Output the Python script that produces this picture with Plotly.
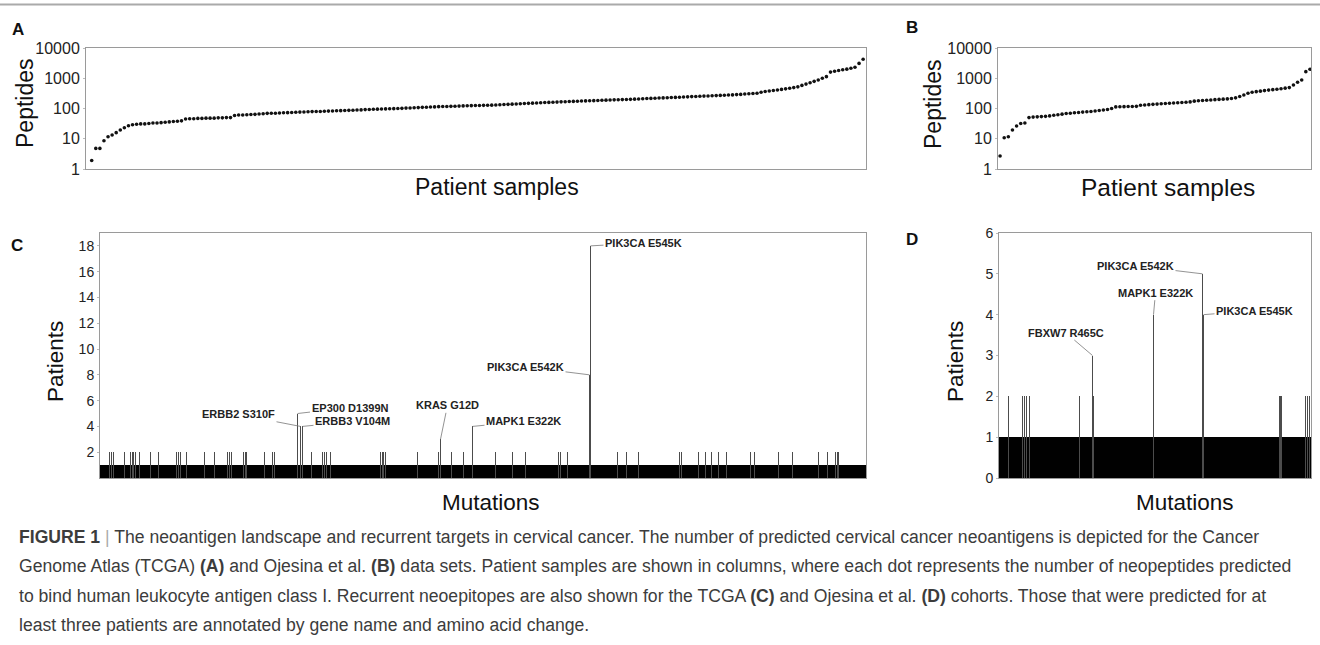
import plotly.graph_objects as go

W, H = 1320, 645

# ---------------- data ----------------
# Panel A: TCGA, predicted neopeptides per patient sample (sorted)
a_peptides = [
    1.9, 4.8, 4.8, 8.6, 11.7, 13.3, 15.9, 19.5, 23, 27,
    29, 30, 31, 31, 32, 33, 33, 34, 35, 36, 37, 38, 39,
    45, 46, 46, 47, 47, 48, 48, 48, 49, 49, 50, 50,
    59, 61, 61, 62, 63, 64, 66, 67, 69,
    70, 70, 71, 72, 73, 74, 75, 76, 77, 78, 79, 80, 80, 81, 82, 83,
    84, 85, 86, 87, 88, 89, 90, 92, 93, 94, 95, 96, 97, 98, 99, 100,
    101, 103, 104, 106, 107, 109, 110, 112, 113, 115,
    116, 117, 118, 119, 120, 122, 123, 124, 125, 126, 127, 128, 129, 131,
    133, 135, 137, 139, 141, 144, 146, 148, 150, 152, 155, 157, 159, 161, 163, 166,
    168, 170, 172, 174, 176, 178, 180, 182, 184, 187, 189, 191, 193, 195, 197, 199,
    201, 204, 207, 210, 213, 216, 219, 222, 224, 227, 230, 233,
    236, 240, 243, 247, 250, 254, 257, 260, 264, 267, 271, 274, 278,
    282, 288, 293, 300, 306, 312, 320, 345,
    365, 378, 392, 410, 428, 447, 468, 490,
    520, 580, 640, 710,
    790, 880, 1000, 1130,
    1600, 1700, 1800, 1900, 2000, 2150, 2300, 3100, 4250,
]

# Panel B: Ojesina et al., predicted neopeptides per patient sample (sorted)
b_peptides = [
    2.7, 10.8, 11.7, 19.5, 26.5, 32, 33, 50, 52, 53,
    54, 55, 57, 60, 62, 65, 68, 70, 72, 74,
    76, 78, 80, 83, 86, 89, 93, 100, 113, 114,
    115, 116, 117, 118, 128, 131, 134, 137, 140, 143,
    146, 149, 152, 155, 158, 161, 165, 175, 180, 184,
    188, 192, 196, 200, 204, 208, 213, 225, 250, 280,
    320, 345, 360, 375, 390, 405, 420, 435, 450, 470,
    490, 600, 740, 880, 1650, 1980,
]
peptide_ticks = [1, 10, 100, 1000, 10000]

# Panel C: TCGA recurrent neoepitopes (every other mutation: 1 patient)
c_n_mutations = 766
c_recurrent_idx = [9, 11, 13, 24, 30, 32, 33, 35, 39, 50, 58, 76, 78, 80, 86,
                   104, 114, 127, 129, 131, 143, 145, 146, 164, 172, 174,
                   197, 200, 202, 211, 222, 224, 226, 230, 280, 282, 283, 285,
                   317, 338, 340, 351, 363, 372, 395, 412, 425, 458, 460, 467,
                   489, 490, 517, 526, 538, 579, 581, 598, 605, 611, 618, 626,
                   650, 654, 678, 692, 718, 727, 735, 737, 738]
c_recurrent_patients = [2, 2, 2, 2, 2, 2, 2, 2, 2, 2, 2, 2, 2, 2, 2,
                        2, 2, 2, 2, 2, 2, 2, 2, 2, 2, 2,
                        5, 4, 4, 2, 2, 2, 2, 2, 2, 2, 2, 2,
                        2, 2, 3, 2, 2, 4, 2, 2, 2, 2, 2, 2,
                        8, 18, 2, 2, 2, 2, 2, 2, 2, 2, 2, 2,
                        2, 2, 2, 2, 2, 2, 2, 2, 2]
c_label_text = ["ERBB2 S310F", "EP300 D1399N", "ERBB3 V104M", "KRAS G12D",
                "MAPK1 E322K", "PIK3CA E542K", "PIK3CA E545K"]
c_label_idx = [200, 197, 202, 340, 372, 489, 490]
c_label_offset = [(-62, -12), (52, -6), (50, -5), (7, -34), (51, -5), (-64, -8), (53, -3)]
c_ticks = [2, 4, 6, 8, 10, 12, 14, 16, 18]

# Panel D: Ojesina et al. recurrent neoepitopes
d_n_mutations = 312
d_recurrent_idx = [9, 23, 25, 27, 30, 80, 93, 94, 154, 203, 204, 280, 281, 282, 306, 308, 310]
d_recurrent_patients = [2, 2, 2, 2, 2, 2, 3, 2, 4, 5, 4, 2, 2, 2, 2, 2, 2]
d_label_text = ["FBXW7 R465C", "MAPK1 E322K", "PIK3CA E542K", "PIK3CA E545K"]
d_label_idx = [93, 154, 203, 204]
d_label_offset = [(-27, -23), (2, -22), (-67, -8), (51, -4)]
d_ticks = [0, 1, 2, 3, 4, 5, 6]

caption_lines = [
    "<b>FIGURE 1</b> <span style='color:#aaa'>|</span> The neoantigen landscape and recurrent targets in cervical cancer. The number of predicted cervical cancer neoantigens is depicted for the Cancer",
    "Genome Atlas (TCGA) <b>(A)</b> and Ojesina et al. <b>(B)</b> data sets. Patient samples are shown in columns, where each dot represents the number of neopeptides predicted",
    "to bind human leukocyte antigen class I. Recurrent neoepitopes are also shown for the TCGA <b>(C)</b> and Ojesina et al. <b>(D)</b> cohorts. Those that were predicted for at",
    "least three patients are annotated by gene name and amino acid change.",
]

# ---------------- helpers ----------------
FONT = "Liberation Sans, Arial, sans-serif"


def px(x):
    return x / W


def py(y):
    return 1 - y / H


def build_counts(n, idx, vals):
    counts = [1] * n
    for i, v in zip(idx, vals):
        counts[i] = v
    return counts


def bar_colors(counts):
    return ["rgba(0,0,0,0.995)" if c == 1 else "rgba(75,75,75,0.995)" for c in counts]


c_counts = build_counts(c_n_mutations, c_recurrent_idx, c_recurrent_patients)
d_counts = build_counts(d_n_mutations, d_recurrent_idx, d_recurrent_patients)

fig = go.Figure()
fig.add_trace(go.Scatter(x=list(range(len(a_peptides))), y=a_peptides, mode="markers",
                         marker=dict(size=3.6, color="#111"), xaxis="x", yaxis="y",
                         showlegend=False, hoverinfo="skip"))
fig.add_trace(go.Scatter(x=list(range(len(b_peptides))), y=b_peptides, mode="markers",
                         marker=dict(size=3.6, color="#111"), xaxis="x2", yaxis="y2",
                         showlegend=False, hoverinfo="skip"))
fig.add_trace(go.Bar(x=list(range(c_n_mutations)), y=c_counts,
                     marker=dict(color=bar_colors(c_counts), line=dict(width=0)),
                     xaxis="x3", yaxis="y3", showlegend=False, hoverinfo="skip"))
fig.add_trace(go.Bar(x=list(range(d_n_mutations)), y=d_counts,
                     marker=dict(color=bar_colors(d_counts), line=dict(width=0)),
                     xaxis="x4", yaxis="y4", showlegend=False, hoverinfo="skip"))

frame = dict(showline=True, linecolor="#9a9a9a", linewidth=1, mirror=True,
             showgrid=False, zeroline=False)

fig.update_layout(
    autosize=True,
    margin=dict(l=0, r=0, t=0, b=0, autoexpand=False),
    paper_bgcolor="white", plot_bgcolor="white",
    bargap=0, bargroupgap=0, showlegend=False,
    font=dict(family=FONT, color="#222"),
    xaxis=dict(domain=[px(86), px(866)], range=[-1.4, len(a_peptides) - 0.3],
               showticklabels=False, ticks="", anchor="y", **frame),
    yaxis=dict(domain=[py(169), py(48)], type="log", range=[0, 4],
               tickvals=peptide_ticks, ticktext=[str(t) for t in peptide_ticks],
               tickfont=dict(size=16, color="#222"), ticks="outside", ticklen=2,
               tickcolor="#bbb", anchor="x", **frame),
    xaxis2=dict(domain=[px(998), px(1311)], range=[-0.5, len(b_peptides) - 0.75],
                showticklabels=False, ticks="", anchor="y2", **frame),
    yaxis2=dict(domain=[py(169), py(48)], type="log", range=[0, 4],
                tickvals=peptide_ticks, ticktext=[str(t) for t in peptide_ticks],
                tickfont=dict(size=16, color="#222"), ticks="outside", ticklen=2,
                tickcolor="#bbb", anchor="x2", **frame),
    xaxis3=dict(domain=[px(100), px(866)], range=[-0.5, c_n_mutations - 0.5],
                showticklabels=False, ticks="", anchor="y3", **frame),
    yaxis3=dict(domain=[py(478), py(233)], range=[0, 19], tickvals=c_ticks,
                tickfont=dict(size=14, color="#222"), ticks="outside", ticklen=2,
                tickcolor="#bbb", anchor="x3", **frame),
    xaxis4=dict(domain=[px(999), px(1311)], range=[-0.5, d_n_mutations - 0.5],
                showticklabels=False, ticks="", anchor="y4", **frame),
    yaxis4=dict(domain=[py(478), py(233)], range=[0, 6], tickvals=d_ticks,
                tickfont=dict(size=14, color="#222"), ticks="outside", ticklen=2,
                tickcolor="#bbb", anchor="x4", **frame),
)

ann = []
# panel letters
for letter, (x, y) in zip("ABCD", [(18, 29), (912, 28), (17, 245), (912, 239)]):
    ann.append(dict(text="<b>%s</b>" % letter, x=px(x), y=py(y), xref="paper", yref="paper",
                    showarrow=False, xanchor="center", yanchor="middle",
                    font=dict(size=17, color="#111", family=FONT)))
# axis titles
for text, x, y, size, ang in [("Peptides", 25, 103, 23, -90), ("Peptides", 933, 104, 23, -90),
                              ("Patient samples", 497, 187, 23, 0),
                              ("Patient samples", 1168, 187, 24.5, 0),
                              ("Patients", 55, 362, 22.5, -90), ("Patients", 955, 362, 22.5, -90),
                              ("Mutations", 491, 502, 22.5, 0), ("Mutations", 1185, 502, 22.5, 0)]:
    ann.append(dict(text=text, x=px(x), y=py(y), xref="paper", yref="paper", showarrow=False,
                    xanchor="center", yanchor="middle", textangle=ang,
                    font=dict(size=size, color="#111", family=FONT)))
# gene labels
label_font = dict(size=11, color="#222", family=FONT, weight="bold")
for text, i, (ax, ay) in zip(c_label_text, c_label_idx, c_label_offset):
    ann.append(dict(text=text, x=i, y=c_counts[i], xref="x3", yref="y3", ax=ax, ay=ay,
                    showarrow=True, arrowhead=0, arrowwidth=0.8, arrowcolor="#777",
                    standoff=0, font=label_font))
for text, i, (ax, ay) in zip(d_label_text, d_label_idx, d_label_offset):
    ann.append(dict(text=text, x=i, y=d_counts[i], xref="x4", yref="y4", ax=ax, ay=ay,
                    showarrow=True, arrowhead=0, arrowwidth=0.8, arrowcolor="#777",
                    standoff=0, font=label_font))
# caption
for k, line in enumerate(caption_lines):
    ann.append(dict(text=line, x=px(17), y=py(537 + 29.3 * k), xref="paper", yref="paper",
                    showarrow=False, xanchor="left", yanchor="middle",
                    font=dict(size=17.6, color="#3c3c3c", family=FONT)))
fig.update_layout(annotations=ann)

fig.add_shape(type="line", xref="paper", yref="paper", x0=0, x1=1, y0=py(4.5), y1=py(4.5),
              line=dict(color="#aaaaaa", width=2))

fig.write_html(
    "out.html", config={"displayModeBar": False},
    default_width="%dpx; position:fixed; left:0; top:0" % W,
    default_height="%dpx" % H,
)
